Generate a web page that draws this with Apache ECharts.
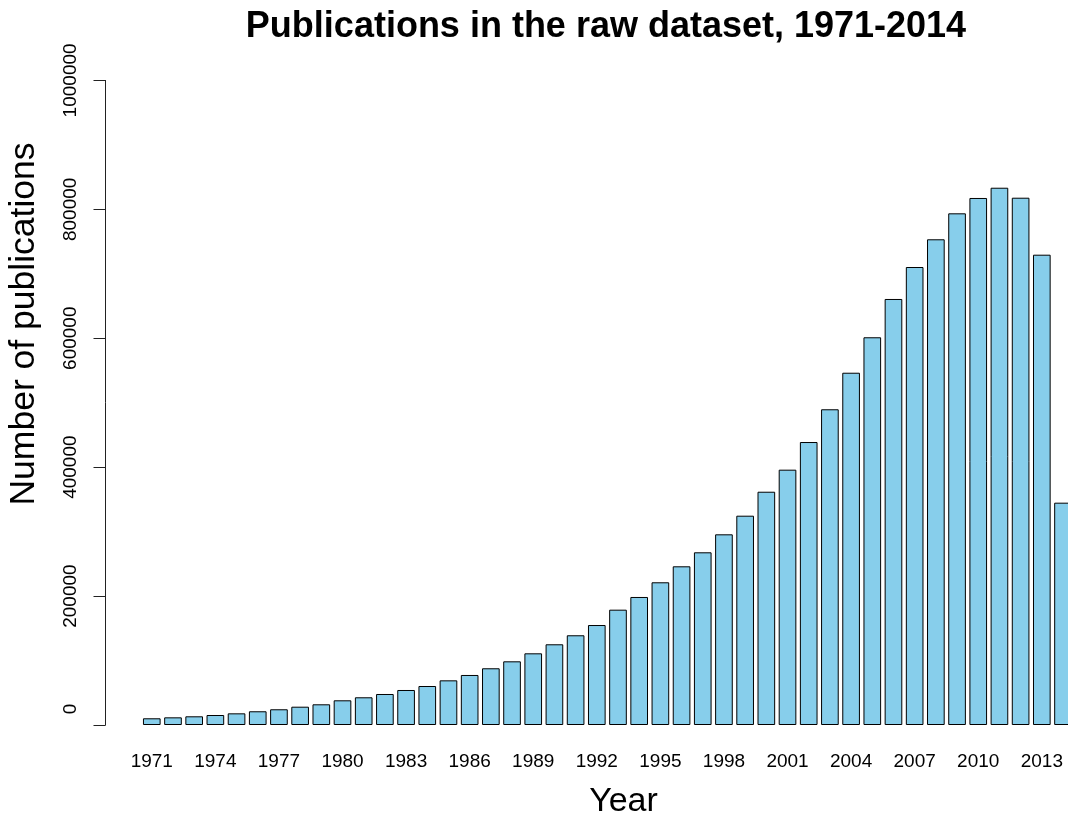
<!DOCTYPE html>
<html>
<head>
<meta charset="utf-8">
<script src="https://cdn.jsdelivr.net/npm/echarts@6/dist/echarts.min.js"></script>
<style>
html,body{margin:0;padding:0;background:#fff;overflow:hidden;}
#chart{width:1090px;height:819px;}
</style>
</head>
<body>
<div id="chart"></div>
<script>
var years = ['1971','1972','1973','1974','1975','1976','1977','1978','1979','1980',
  '1981','1982','1983','1984','1985','1986','1987','1988','1989','1990',
  '1991','1992','1993','1994','1995','1996','1997','1998','1999','2000',
  '2001','2002','2003','2004','2005','2006','2007','2008','2009','2010',
  '2011','2012','2013','2014'];
var publications = [10400,11900,13500,15500,18100,21300,24400,28400,32100,38300,
  43000,48100,54300,60500,69300,77600,88000,98800,111200,125200,
  139200,155100,178900,198600,221400,246200,267900,295800,324700,361900,
  396100,439000,489800,546500,601500,660900,710500,753500,793800,817600,
  833500,818000,729600,344900];
var yMin = 0, yMax = 1000000, yStep = 200000;
var titleText = 'Publications in the raw dataset, 1971-2014';
var xTitle = 'Year';
var yTitle = 'Number of publications';

var chart = echarts.init(document.getElementById('chart'), null, {renderer: 'canvas'});
var FONT = '"Liberation Sans", Arial, Helvetica, sans-serif';
chart.setOption({
  animation: false,
  backgroundColor: '#ffffff',
  grid: {left: 141.2, top: 80.4, width: 932.4, height: 644.6, containLabel: false},
  xAxis: {
    type: 'category',
    data: years,
    boundaryGap: true,
    axisLine: {show: false},
    axisTick: {show: false},
    splitLine: {show: false},
    axisLabel: {interval: 2, fontSize: 19, fontFamily: FONT, color: '#000', margin: 27, hideOverlap: false}
  },
  yAxis: {
    type: 'value',
    min: yMin, max: yMax, interval: yStep,
    offset: 35.7,
    splitLine: {show: false},
    axisLine: {show: true, lineStyle: {color: '#222', width: 1}},
    axisTick: {show: true, length: 12, lineStyle: {color: '#222', width: 1}},
    axisLabel: {
      rotate: 90, fontSize: 19, fontFamily: FONT, color: '#000', margin: 25,
      formatter: function (v) { return v === 0 ? '{z|0}' : String(v); },
      rich: {z: {fontSize: 19, fontFamily: FONT, color: '#000', padding: [0, 0, 0, 32]}}
    }
  },
  series: [{
    type: 'bar',
    data: publications,
    barCategoryGap: '16.67%',
    itemStyle: {color: '#87CEEB', borderColor: '#000', borderWidth: 1}
  }],
  graphic: [
    {type: 'text', x: 606, y: 27, style: {text: titleText, font: 'bold 36px ' + FONT, fill: '#000', textAlign: 'center', textVerticalAlign: 'middle'}},
    {type: 'text', x: 623.5, y: 802, style: {text: xTitle, font: '34px ' + FONT, fill: '#000', textAlign: 'center', textVerticalAlign: 'middle'}},
    {type: 'text', x: 24, y: 324, rotation: Math.PI / 2, style: {text: yTitle, font: '35.5px ' + FONT, fill: '#000', textAlign: 'center', textVerticalAlign: 'middle'}}
  ]
});
</script>
</body>
</html>
